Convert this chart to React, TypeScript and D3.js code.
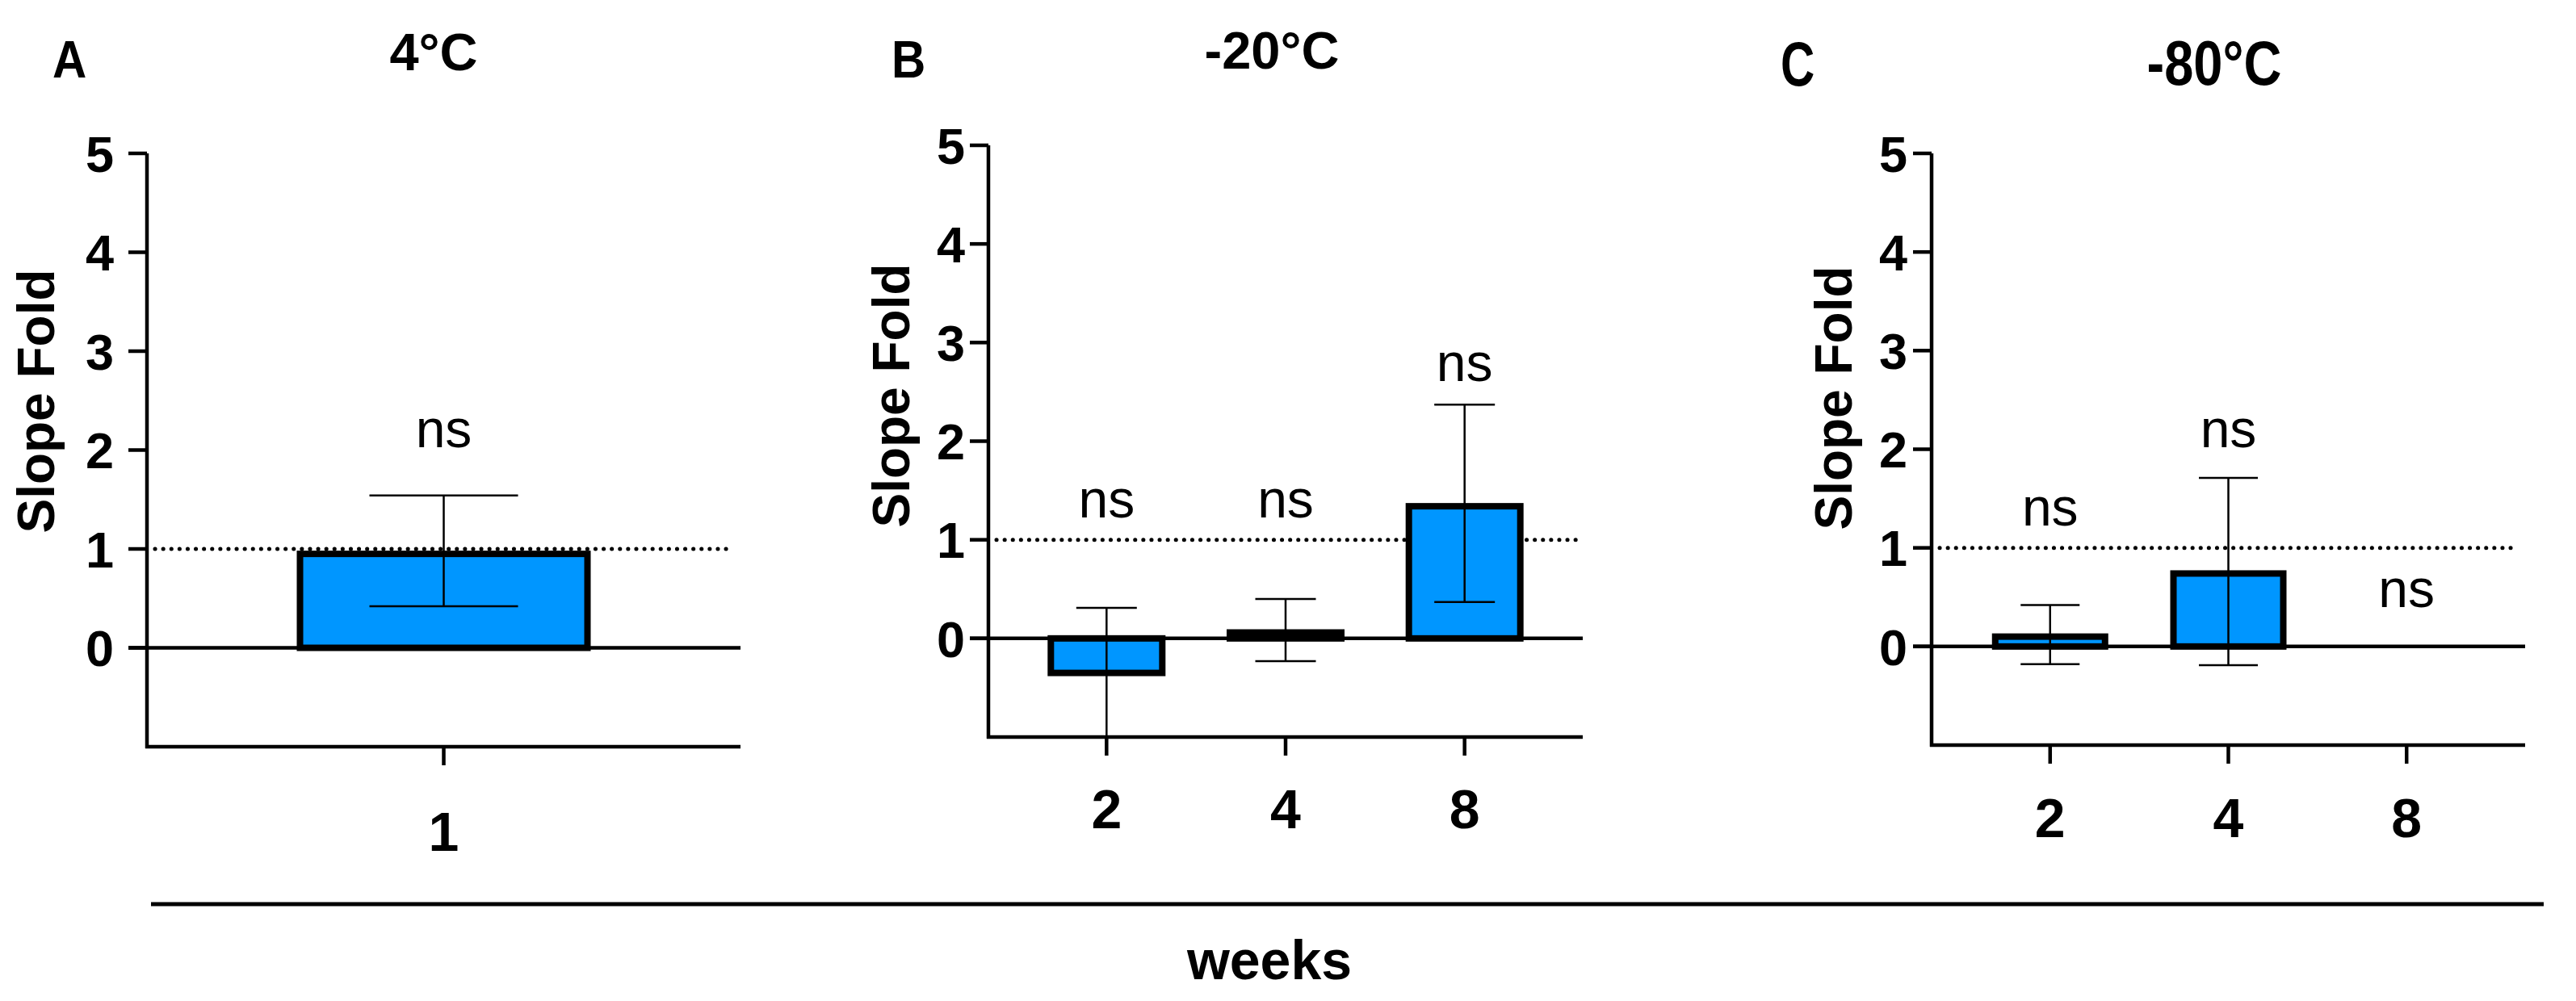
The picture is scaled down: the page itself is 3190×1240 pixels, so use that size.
import React from "react";
import * as d3 from "d3";

// ---------- data ----------
const panelLetters = ["A", "B", "C"];
const panelTitles = ["4°C", "-20°C", "-80°C"];

const weeksA = ["1"];
const meanA = [0.95];
const lowA = [0.42];
const highA = [1.54];
const nsA = [2.03];

const weeksB = ["2", "4", "8"];
const meanB = [-0.35, 0.06, 1.34];
const lowB = [-1.0, -0.23, 0.37];
const highB = [0.31, 0.4, 2.37];
const nsB = [1.23, 1.23, 2.61];

const weeksC = ["2", "4", "8"];
const meanC: (number | null)[] = [0.1, 0.74, null];
const lowC: (number | null)[] = [-0.18, -0.19, null];
const highC: (number | null)[] = [0.42, 1.71, null];
const nsC = [1.23, 2.02, 0.4];

const yTicks = [0, 1, 2, 3, 4, 5];
const yDomain = [-1, 5];
const refLine = 1;
const xAxisTitle = "weeks";
const yAxisTitle = "Slope Fold";
const sigLabel = "ns";

// ---------- layout (styles) ----------
const FONT = "'Liberation Sans', Arial, Helvetica, sans-serif";
const BAR_FILL = "#0096FF";

type Layout = {
  x0: number; x1: number; top: number; bottom: number;
  barW: number; capW: number;
  titleX: number; titleY: number; letterX: number; letterY: number; headScaleY: number;
  yLabX: number; yLabY: number; xLabY: number; pad: number; tickLabOff: number;
};

const layouts: Layout[] = [
  { x0: 182, x1: 917, top: 190, bottom: 925, barW: 356, capW: 184, titleX: 537, titleY: 87, letterX: 65, letterY: 96, headScaleY: 1, yLabX: 67, yLabY: 497, xLabY: 1054, pad: 0.66, tickLabOff: 41 },
  { x0: 1224, x1: 1960, top: 180, bottom: 913, barW: 138, capW: 75, titleX: 1575, titleY: 85, letterX: 1104, letterY: 96, headScaleY: 1, yLabX: 1126, yLabY: 490, xLabY: 1026, pad: 0.66, tickLabOff: 29 },
  { x0: 2392, x1: 3127, top: 190, bottom: 923, barW: 136, capW: 73, titleX: 2742, titleY: 105, letterX: 2205, letterY: 106, headScaleY: 1.2, yLabX: 2293, yLabY: 493, xLabY: 1037, pad: 0.665, tickLabOff: 30 },
];

type PanelData = {
  weeks: string[];
  mean: (number | null)[];
  low: (number | null)[];
  high: (number | null)[];
  ns: number[];
};

const panelData: PanelData[] = [
  { weeks: weeksA, mean: meanA, low: lowA, high: highA, ns: nsA },
  { weeks: weeksB, mean: meanB, low: lowB, high: highB, ns: nsB },
  { weeks: weeksC, mean: meanC, low: lowC, high: highC, ns: nsC },
];

function Panel({ idx }: { idx: number }) {
  const L = layouts[idx];
  const D = panelData[idx];
  const y = d3.scaleLinear().domain(yDomain).range([L.bottom, L.top]);
  const x = d3.scalePoint<string>().domain(D.weeks).range([L.x0, L.x1]).padding(L.pad);
  const clampY = (v: number) => y(Math.max(yDomain[0], Math.min(yDomain[1], v)));

  return (
    <g>
      {/* panel letter and title */}
      <text
        transform={`translate(${L.letterX},${L.letterY}) scale(0.9,${L.headScaleY})`}
        fontFamily={FONT}
        fontWeight="bold"
        fontSize={65}
      >
        {panelLetters[idx]}
      </text>
      <text
        transform={`translate(${L.titleX},${L.titleY}) scale(1,${L.headScaleY})`}
        fontFamily={FONT}
        fontWeight="bold"
        fontSize={65}
        textAnchor="middle"
      >
        {panelTitles[idx]}
      </text>

      {/* y axis title */}
      <text
        transform={`translate(${L.yLabX},${L.yLabY}) rotate(-90)`}
        fontFamily={FONT}
        fontWeight="bold"
        fontSize={64}
        textAnchor="middle"
      >
        {yAxisTitle}
      </text>

      {/* reference dotted line */}
      <line
        x1={L.x0 + 10}
        x2={L.x1 - 8}
        y1={y(refLine)}
        y2={y(refLine)}
        stroke="#000"
        strokeWidth={5}
        strokeLinecap="round"
        strokeDasharray="0.1,10"
      />

      {/* bars */}
      {D.weeks.map((w, i) => {
        const m = D.mean[i];
        if (m === null) return null;
        const cx = x(w) as number;
        const yTop = Math.min(y(m), y(0));
        const h = Math.abs(y(m) - y(0));
        return (
          <rect
            key={"bar" + w}
            x={cx - L.barW / 2}
            y={yTop}
            width={L.barW}
            height={h}
            fill={BAR_FILL}
            stroke="#000"
            strokeWidth={8}
          />
        );
      })}

      {/* error bars */}
      {D.weeks.map((w, i) => {
        const lo = D.low[i];
        const hi = D.high[i];
        if (lo === null || hi === null) return null;
        const cx = x(w) as number;
        const yl = clampY(lo);
        const yh = clampY(hi);
        return (
          <g key={"err" + w} stroke="#000" strokeWidth={2.5}>
            <line x1={cx} x2={cx} y1={yh} y2={yl} />
            <line x1={cx - L.capW / 2} x2={cx + L.capW / 2} y1={yh} y2={yh} />
            {lo > yDomain[0] && <line x1={cx - L.capW / 2} x2={cx + L.capW / 2} y1={yl} y2={yl} />}
          </g>
        );
      })}

      {/* zero line */}
      <line x1={L.x0 - 23} x2={L.x1} y1={y(0)} y2={y(0)} stroke="#000" strokeWidth={4.5} />

      {/* y axis */}
      <line x1={L.x0} x2={L.x0} y1={L.top} y2={L.bottom + 2} stroke="#000" strokeWidth={4.5} />
      {yTicks.map((t) => (
        <g key={"yt" + t}>
          <line x1={L.x0 - 23} x2={L.x0} y1={y(t)} y2={y(t)} stroke="#000" strokeWidth={4.5} />
          <text
            x={L.x0 - L.tickLabOff}
            y={y(t)}
            dy="0.36em"
            textAnchor="end"
            fontFamily={FONT}
            fontWeight="bold"
            fontSize={63}
          >
            {t}
          </text>
        </g>
      ))}

      {/* x axis */}
      <line x1={L.x0 - 2} x2={L.x1} y1={L.bottom} y2={L.bottom} stroke="#000" strokeWidth={4.5} />
      {D.weeks.map((w) => (
        <g key={"xt" + w}>
          <line x1={x(w) as number} x2={x(w) as number} y1={L.bottom} y2={L.bottom + 23} stroke="#000" strokeWidth={4.5} />
          <text
            x={x(w) as number}
            y={L.xLabY}
            textAnchor="middle"
            fontFamily={FONT}
            fontWeight="bold"
            fontSize={68}
          >
            {w}
          </text>
        </g>
      ))}

      {/* significance labels */}
      {D.weeks.map((w, i) => (
        <text
          key={"ns" + w}
          x={x(w) as number}
          y={y(D.ns[i])}
          textAnchor="middle"
          fontFamily={FONT}
          fontSize={66}
        >
          {sigLabel}
        </text>
      ))}
    </g>
  );
}

export default function App() {
  return (
    <svg
      width={3190}
      height={1240}
      viewBox="0 0 3190 1240"
      style={{ position: "absolute", left: 0, top: 0, background: "#fff" }}
    >
      <rect x={0} y={0} width={3190} height={1240} fill="#fff" />
      {layouts.map((_, i) => (
        <Panel key={i} idx={i} />
      ))}
      <line x1={187} x2={3150} y1={1120} y2={1120} stroke="#000" strokeWidth={5} />
      <text x={1572} y={1213} textAnchor="middle" fontFamily={FONT} fontWeight="bold" fontSize={68}>
        {xAxisTitle}
      </text>
    </svg>
  );
}
